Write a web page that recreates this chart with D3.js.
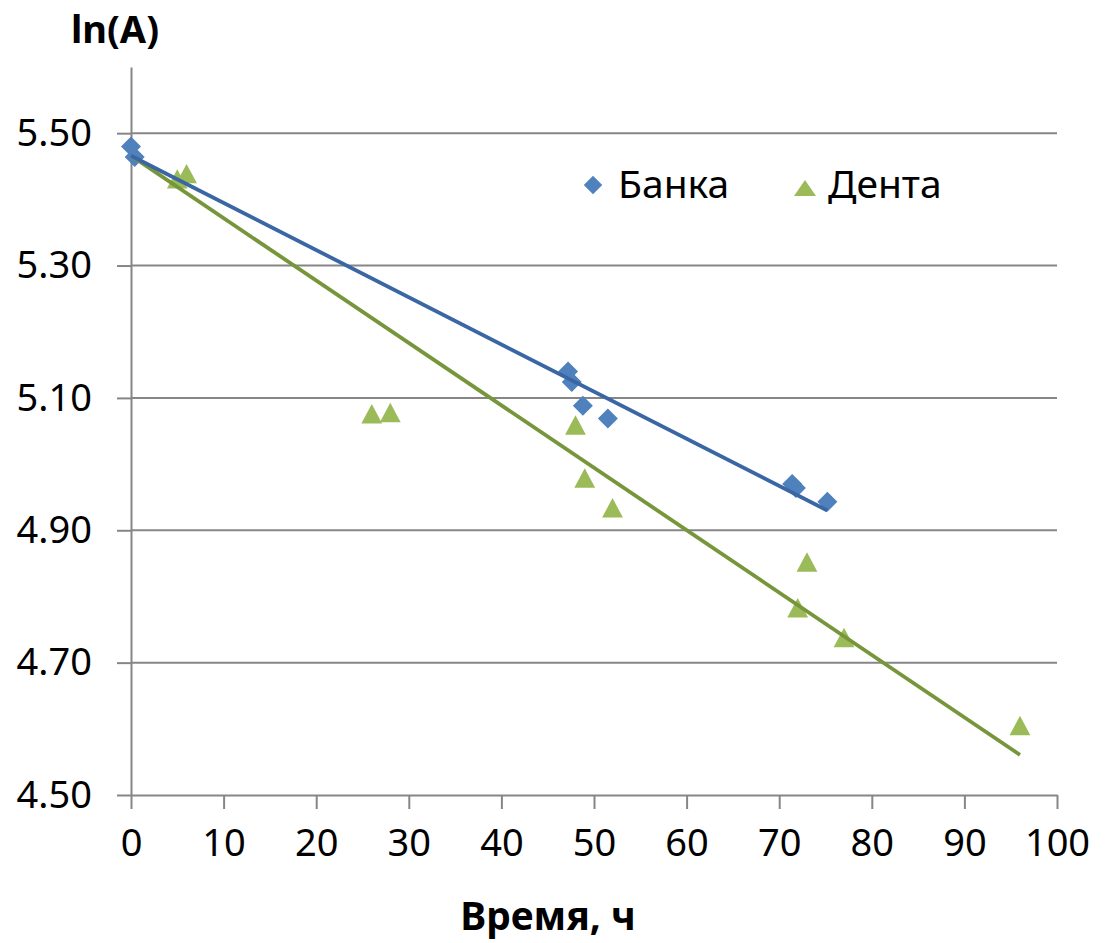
<!DOCTYPE html>
<html>
<head>
<meta charset="utf-8">
<script src="https://cdn.jsdelivr.net/npm/d3@7"></script>
<style>
  body { margin: 0; background: #fff; }
  svg { display: block; font-family: 'Noto Sans', 'Open Sans', sans-serif; }
</style>
</head>
<body>
<svg width="1105" height="943"></svg>
<script>
// Банка (diamonds)
const bankaHours = [0, 0.4, 47.2, 47.6, 48.8, 51.5, 71.4, 71.8, 75.2]
const bankaLnA = [5.480, 5.464, 5.140, 5.124, 5.088, 5.069, 4.970, 4.964, 4.943]

// Дента (triangles)
const dentaHours = [5, 6, 26, 28, 48, 49, 52, 72, 73, 77, 96]
const dentaLnA = [5.429, 5.437, 5.074, 5.076, 5.057, 4.977, 4.932, 4.781, 4.850, 4.736, 4.603]

// linear trendlines with the intercept fixed at ln(A0)
const trendIntercept = 5.466

const seriesNames = ['Банка', 'Дента']
const xTicks = [0, 10, 20, 30, 40, 50, 60, 70, 80, 90, 100]
const yTicks = [4.5, 4.7, 4.9, 5.1, 5.3, 5.5]

const width = 1105
const height = 943
const margin = { top: 67, right: 48, bottom: 148, left: 131 }

const svg = d3.select('svg')

const x = d3.scaleLinear()
  .domain([0, 100])
  .range([margin.left, width - margin.right])

const y = d3.scaleLinear()
  .domain([4.5, 5.6])
  .range([height - margin.bottom, margin.top])

const grey = '#868686'
const colors = { marker: ['#4f81bd', '#9bbb59'], trend: ['#3a66a3', '#77963b'] }

// horizontal grid
svg.append('g')
  .selectAll('line')
  .data(yTicks.filter(d => d > 4.5))
  .join('line')
  .attr('x1', x(0))
  .attr('x2', x(100))
  .attr('y1', d => y(d))
  .attr('y2', d => y(d))
  .attr('stroke', grey)
  .attr('stroke-width', 2)

const xAxis = g => g
  .attr('transform', `translate(0,${y(4.5)})`)
  .call(d3.axisBottom(x).tickValues(xTicks).tickSize(14).tickPadding(20).tickSizeOuter(0))
  .call(g => g.selectAll('.domain').attr('stroke', grey).attr('stroke-width', 2))
  .call(g => g.selectAll('.tick line').attr('stroke', grey).attr('stroke-width', 2))
  .call(g => g.selectAll('.tick text').attr('fill', '#000').attr('font-size', 38))

const yAxis = g => g
  .attr('transform', `translate(${x(0)},0)`)
  .call(d3.axisLeft(y).tickValues(yTicks).tickFormat(d3.format('.2f')).tickSize(14).tickPadding(25).tickSizeOuter(0))
  .call(g => g.selectAll('.domain').attr('stroke', grey).attr('stroke-width', 2))
  .call(g => g.selectAll('.tick text').attr('fill', '#000').attr('font-size', 38))
  .call(g => g.selectAll('.tick line').attr('stroke', grey).attr('stroke-width', 2))

svg.append('g').call(xAxis).attr('font-family', null)
svg.append('g').call(yAxis).attr('font-family', null)

const banka = bankaHours.map((h, i) => ({ h, v: bankaLnA[i] }))
const denta = dentaHours.map((h, i) => ({ h, v: dentaLnA[i] }))

const diamond = d3.symbol().type(d3.symbolSquare).size(200)
const triangle = s => `M0,${-s * 0.55}L${s * 0.52},${s * 0.42}L${-s * 0.52},${s * 0.42}Z`

svg.append('g')
  .selectAll('path')
  .data(banka)
  .join('path')
  .attr('d', diamond)
  .attr('transform', d => `translate(${x(d.h)},${y(d.v)}) rotate(45)`)
  .attr('fill', colors.marker[0])

svg.append('g')
  .selectAll('path')
  .data(denta)
  .join('path')
  .attr('d', triangle(20))
  .attr('transform', d => `translate(${x(d.h)},${y(d.v)})`)
  .attr('fill', colors.marker[1])

// least squares slope through the fixed intercept
function slopeFor(data) {
  const sxy = d3.sum(data, d => d.h * (d.v - trendIntercept))
  const sxx = d3.sum(data, d => d.h * d.h)
  return sxy / sxx
}

const line = d3.line().x(d => x(d[0])).y(d => y(d[1]))

;[denta, banka].forEach((data, k) => {
  const idx = k === 0 ? 1 : 0
  const slope = slopeFor(data)
  const xMax = d3.max(data, d => d.h)
  svg.append('path')
    .attr('d', line([[0, trendIntercept], [xMax, trendIntercept + slope * xMax]]))
    .attr('fill', 'none')
    .attr('stroke', colors.trend[idx])
    .attr('stroke-width', 3.8)
})

// legend
const legend = svg.append('g')
legend.append('path')
  .attr('d', d3.symbol().type(d3.symbolSquare).size(170))
  .attr('transform', 'translate(593,185) rotate(45)')
  .attr('fill', colors.marker[0])
legend.append('path')
  .attr('d', 'M0,-9L11,7L-11,7Z')
  .attr('transform', 'translate(805,189)')
  .attr('fill', colors.marker[1])
legend.selectAll('text')
  .data(seriesNames)
  .join('text')
  .attr('x', (d, i) => i === 0 ? 618 : 828)
  .attr('y', 198)
  .attr('font-size', 39)
  .text(d => d)

// axis titles
svg.append('text')
  .attr('x', 115)
  .attr('y', 43)
  .attr('text-anchor', 'middle')
  .attr('font-size', 38)
  .attr('font-weight', 'bold')
  .text('ln(A)')

svg.append('text')
  .attr('x', 548)
  .attr('y', 930)
  .attr('text-anchor', 'middle')
  .attr('font-size', 39)
  .attr('font-weight', 'bold')
  .text('Время, ч')
</script>
</body>
</html>
